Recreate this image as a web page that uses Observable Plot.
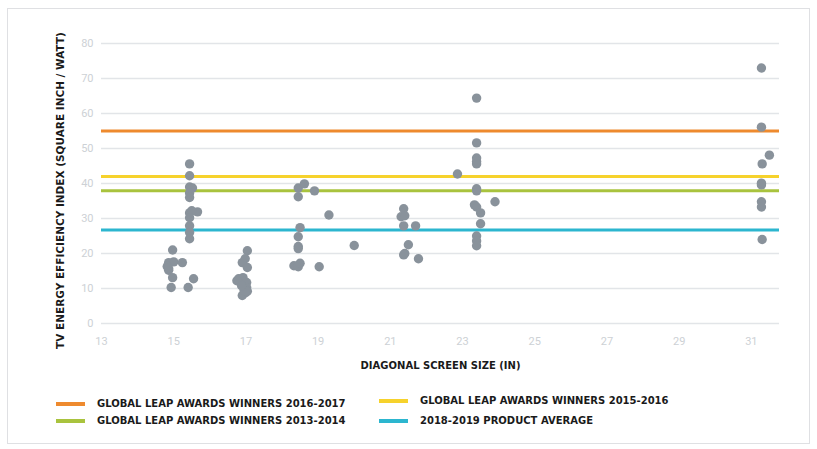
<!DOCTYPE html>
<html>
<head>
<meta charset="utf-8">
<script src="https://cdn.jsdelivr.net/npm/d3@7"></script>
<script src="https://cdn.jsdelivr.net/npm/@observablehq/plot@0.6"></script>
<style>
  html, body { margin: 0; padding: 0; background: #fff; }
  #wrap { position: relative; width: 817px; height: 449px; overflow: hidden; font-family: "DejaVu Sans", sans-serif; }
  #frame { position: absolute; left: 7px; top: 8px; width: 803px; height: 436px; border: 1px solid #dfe0e3; box-sizing: border-box; }
  #chart { position: absolute; left: 0; top: 0; }
  .lg { position: absolute; font-weight: 700; font-size: 10px; color: #1a1a1a; white-space: nowrap; line-height: 12px; }
  .sw { position: absolute; height: 4px; width: 29px; }
</style>
</head>
<body>
<div id="wrap">
  <div id="frame"></div>
  <div id="chart"></div>
  <div id="legend"></div>
</div>
<script>
// Data
const sizes = [
  15.44,15.44,15.44,15.52,15.44,15.44,15.44,15.66,15.5,15.44,15.44,15.44,15.44,14.97,14.86,15.0,14.82,14.86,15.24,14.86,14.97,14.93,15.55,15.4,
  17.04,16.98,16.9,17.04,16.8,16.92,17.02,17.02,16.99,16.9,16.95,16.75,17.04,16.88,
  18.45,18.62,18.45,18.9,19.3,18.5,18.45,18.45,18.45,18.33,18.45,18.5,19.03,
  20.0,
  21.37,21.3,21.4,21.37,21.7,21.5,21.4,21.37,21.78,
  23.39,23.39,23.39,23.39,23.39,22.86,23.39,23.39,23.33,23.39,23.5,23.9,23.5,23.39,23.39,23.39,
  31.28,31.28,31.5,31.3,31.28,31.28,31.28,31.28,31.3
];
const efficiency = [
  45.6,42.2,39,38.7,37.3,36,31.6,31.9,32.2,30.2,27.9,26,24.2,21,17.4,17.6,16.3,15.2,17.4,15.7,13.1,10.3,12.8,10.3,
  20.8,18.5,17.4,16,12.8,13.1,11.7,10.3,8.8,8.0,9.4,12.2,9.2,10.8,
  38.7,39.9,36.2,37.9,31,27.4,24.8,22,21.4,16.5,16.2,17.2,16.2,
  22.3,
  32.8,30.5,30.8,27.9,27.9,22.5,20,19.6,18.5,
  64.4,51.6,47.3,46.3,45.6,42.7,38.5,37.9,33.9,33.3,31.6,34.8,28.5,25,23.6,22.2,
  73,56.1,48.1,45.6,39.6,40.1,34.8,33.3,24
];
const refNames = [
  "GLOBAL LEAP AWARDS WINNERS 2016-2017",
  "GLOBAL LEAP AWARDS WINNERS 2015-2016",
  "GLOBAL LEAP AWARDS WINNERS 2013-2014",
  "2018-2019 PRODUCT AVERAGE"
];
const refValues = [55, 42, 37.9, 26.7];
const refColors = ["#ee8a2e", "#f6d22c", "#a9c33e", "#2cb6cf"];
const xTicks = [13, 15, 17, 19, 21, 23, 25, 27, 29, 31];
const yTicks = [0, 10, 20, 30, 40, 50, 60, 70, 80];
const xTitle = "DIAGONAL SCREEN SIZE (IN)";
const yTitle = "TV ENERGY EFFICIENCY INDEX (SQUARE INCH / WATT)";

const points = sizes.map((s, i) => ({size: s, eff: efficiency[i]}));
const refs = refNames.map((n, i) => ({name: n, value: refValues[i], color: refColors[i]}));

const chart = Plot.plot({
  width: 817,
  height: 380,
  marginLeft: 101,
  marginRight: 38,
  marginTop: 43,
  marginBottom: 57,
  style: {fontFamily: "Roboto, 'Liberation Sans', sans-serif", background: "transparent", overflow: "visible"},
  x: {domain: [13, 31.78], ticks: xTicks, tickSize: 0, tickPadding: 14, label: null},
  y: {domain: [0, 80], ticks: yTicks, tickSize: 0, tickPadding: 8, label: null},
  marks: [
    Plot.ruleY(yTicks, {stroke: "#e2e5e8", strokeWidth: 1.5}),
    Plot.axisX({ticks: xTicks, tickSize: 0, tickPadding: 14, fill: "#cdd1d5", fontSize: 11, label: null}),
    Plot.axisY({ticks: yTicks, tickSize: 0, tickPadding: 8, fill: "#cdd1d5", fontSize: 11, label: null}),
    Plot.ruleY(refs, {y: "value", stroke: "color", strokeWidth: 3}),
    Plot.dot(points, {x: "size", y: "eff", r: 4.7, fill: "#89929b", stroke: "none"}),
    Plot.text([xTitle], {frameAnchor: "bottom", dy: 45, fontWeight: 700, fontSize: 10, fill: "#1a1a1a", fontFamily: "DejaVu Sans"}),
    Plot.text([yTitle], {frameAnchor: "left", textAnchor: "middle", dx: -41, dy: 7, rotate: -90, fontWeight: 700, fontSize: 10.5, fill: "#1a1a1a", fontFamily: "DejaVu Sans"})
  ]
});
document.getElementById("chart").appendChild(chart);

// Legend (HTML below the plot area)
const legendPos = [
  {sx: 56, tx: 97, y: 404},
  {sx: 379, tx: 420, y: 401},
  {sx: 56, tx: 97, y: 421},
  {sx: 379, tx: 420, y: 421}
];
const legend = document.getElementById("legend");
refs.forEach((r, i) => {
  const p = legendPos[i];
  const sw = document.createElement("div");
  sw.className = "sw";
  sw.style.left = p.sx + "px";
  sw.style.top = (p.y - 2) + "px";
  sw.style.background = r.color;
  legend.appendChild(sw);
  const t = document.createElement("div");
  t.className = "lg";
  t.style.left = p.tx + "px";
  t.style.top = (p.y - 6) + "px";
  t.textContent = r.name;
  legend.appendChild(t);
});
</script>
</body>
</html>
